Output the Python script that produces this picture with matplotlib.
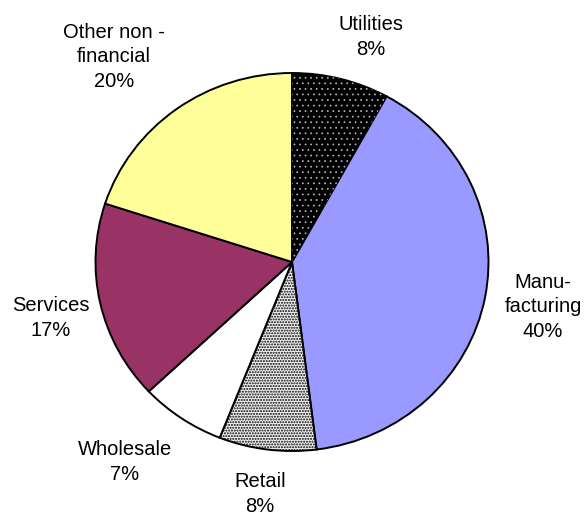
import matplotlib
matplotlib.use("Agg")
import matplotlib.pyplot as plt
from matplotlib.patches import Wedge

plt.rcParams['font.family'] = ['Liberation Sans', 'DejaVu Sans']

# data, clockwise from 12 o'clock
sectors = ['Utilities', 'Manu-\nfacturing', 'Retail', 'Wholesale', 'Services', 'Other non -\nfinancial']
shares = [8, 40, 8, 7, 17, 20]
colors = ['#000000', '#9999ff', '#f4f4f4', '#ffffff', '#993366', '#ffff99']
hatches = ['', '', '......', '', '', '']

# label centres in pixels of the 584x519 picture
label_px = [(371, 37), (543, 307), (260, 494), (125, 462), (51, 318), (114, 57)]

W, H = 584, 519
cx, cy = 292, 262      # pie centre (px)
rx, ry = 196.5, 189.0  # radii (px), slightly squashed like the original

fig = plt.figure(figsize=(W / 100, H / 100), dpi=100)
ax = fig.add_axes([0, 0, 1, 1])

wedges, _ = ax.pie(shares, colors=colors, startangle=90, counterclock=False,
                   wedgeprops=dict(edgecolor='black', linewidth=1.4))
for w, h in zip(wedges, hatches):
    if h:
        w.set_hatch(h)

# sparse white dots on the black utilities slice
plt.rcParams['hatch.linewidth'] = 0.5
u = wedges[0]
dots = Wedge(u.center, u.r, u.theta1, u.theta2, facecolor='none',
             edgecolor='#bbbbbb', hatch='...', linewidth=0)
ax.add_patch(dots)

ax.set_aspect('auto')
ax.set_xlim(-cx / rx, (W - cx) / rx)
ax.set_ylim(-(H - cy) / ry, cy / ry)
ax.axis('off')

for name, v, (px, py) in zip(sectors, shares, label_px):
    ax.text((px - cx) / rx, (cy - py) / ry, f"{name}\n{v}%", ha='center', va='center',
            fontsize=14.5, linespacing=1.38, color='black')

fig.savefig('out.png', dpi=100)
